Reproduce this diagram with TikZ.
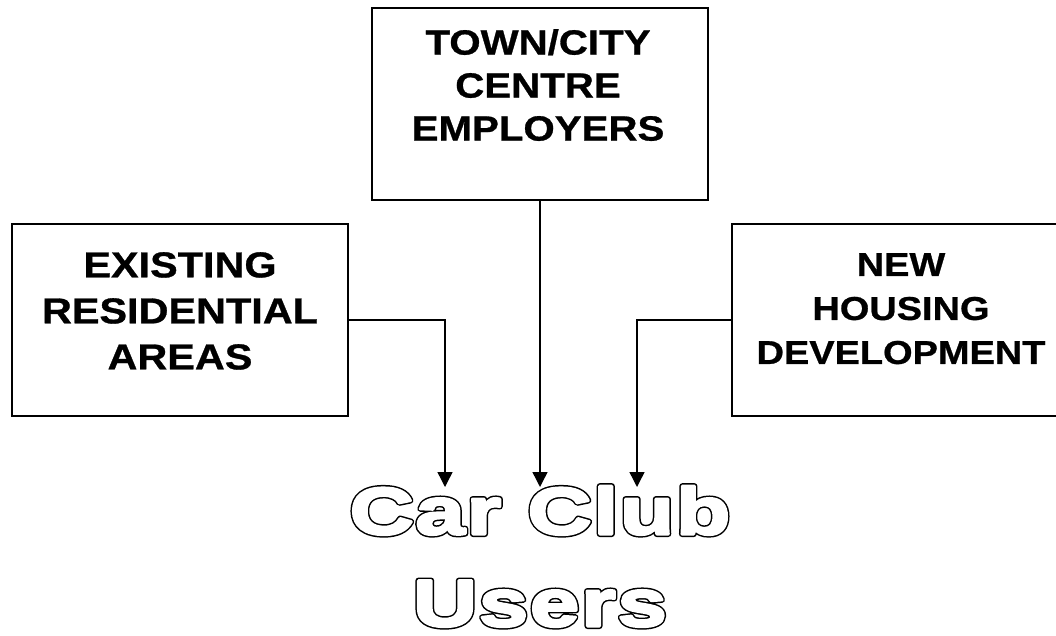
\documentclass[tikz,border=0pt]{standalone}
\usepackage{fontspec}
\usetikzlibrary{arrows.meta}
\newfontfamily\boxfont[FakeStretch=1.15,FakeBold=0.8]{Liberation Sans}
\newfontfamily\clubfont[FakeStretch=1.34,LetterSpace=3]{Liberation Sans}
\newcommand\myoutline[1]{\leavevmode\rlap{\special{pdf:literal direct q 2 Tr 6 w 1 j}#1\special{pdf:literal direct Q}}{\color{white}\special{pdf:literal direct q 2 Tr 3 w 1 j}#1\special{pdf:literal direct Q}}}
\tikzset{
  boxnode/.style={draw=black, line width=1.6pt, minimum width=336pt, minimum height=192pt, inner sep=0pt},
  boxtext/.style={align=center, inner sep=0pt, anchor=north},
  conn/.style={line width=1.4pt, -{Triangle[width=15pt,length=15pt]}},
  clubtext/.style={font=\clubfont\bfseries\fontsize{66}{80}\selectfont, inner sep=0pt, anchor=base}
}
\begin{document}
\begin{tikzpicture}[x=1pt,y=-1pt]
\useasboundingbox (0,0) rectangle (1056,635);
\node[boxnode] (T) at (540,104) {};
\node[boxnode] (L) at (180,320) {};
\node[boxnode] (R) at (900,320) {};
\node[boxtext, font=\boxfont\bfseries\fontsize{35}{43}\selectfont] (Tt) at (538,29) {TOWN/CITY\\CENTRE\\EMPLOYERS};
\node[boxtext, font=\boxfont\bfseries\fontsize{36}{46}\selectfont] (Lt) at (180,252) {EXISTING\\RESIDENTIAL\\AREAS};
\node[boxtext, font=\boxfont\bfseries\fontsize{33}{44}\selectfont] (Rt) at (901,253) {NEW\\HOUSING\\DEVELOPMENT};
\coordinate (e1) at (445,487);
\coordinate (e2) at (540,487);
\coordinate (e3) at (637,487);
\draw[conn] (L.east) -| (e1);
\draw[conn] (T.south) -- (e2);
\draw[conn] (R.west) -| (e3);
\node[clubtext] (c1) at (540,534) {\myoutline{Car Club}};
\node[clubtext] (c2) at (540,626) {\myoutline{Users}};
\end{tikzpicture}
\end{document}
